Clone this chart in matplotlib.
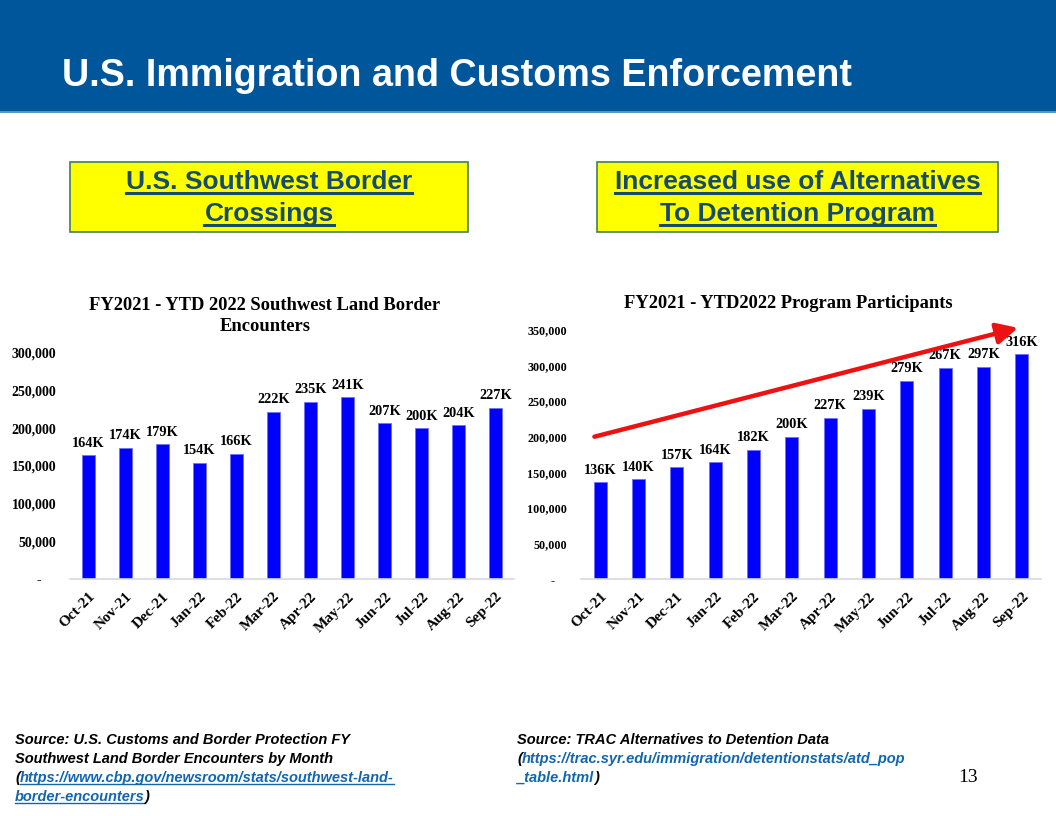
import matplotlib
matplotlib.use("Agg")
import matplotlib.pyplot as plt
from matplotlib.patches import Rectangle
from matplotlib.lines import Line2D
from matplotlib.ticker import FuncFormatter

months = ["Oct-21", "Nov-21", "Dec-21", "Jan-22", "Feb-22", "Mar-22",
          "Apr-22", "May-22", "Jun-22", "Jul-22", "Aug-22", "Sep-22"]

# southwest border encounters (thousands)
border = [164, 174, 179, 154, 166, 222, 235, 241, 207, 200, 204, 227]
border_labels = ["164K", "174K", "179K", "154K", "166K", "222K",
                 "235K", "241K", "207K", "200K", "204K", "227K"]

# ATD program participants (thousands) - labels copied as printed on the slide
atd = [136, 140, 157, 164, 182, 200, 227, 239, 279, 297, 298, 316]
atd_labels = ["136K", "140K", "157K", "164K", "182K", "200K",
              "227K", "239K", "279K", "267K", "297K", "316K"]

W, H = 1056, 816
fig = plt.figure(figsize=(W / 100, H / 100), dpi=100)
fig.patch.set_facecolor("white")

serif = "Liberation Serif"
sans = "Liberation Sans"

# header band
fig.add_artist(Rectangle((0, 1 - 111 / H), 1, 111 / H, transform=fig.transFigure,
                         facecolor="#00569b", edgecolor="none"))
fig.add_artist(Rectangle((0, 1 - 113 / H), 1, 2 / H, transform=fig.transFigure,
                         facecolor="#5b93c7", edgecolor="none"))
fig.text(62 / W, 1 - 76 / H, "U.S. Immigration and Customs Enforcement",
         color="white", fontsize=27.2, fontweight="bold", family=sans,
         va="center", ha="left")

renderer = fig.canvas.get_renderer()


def underline(t, color, lw=2.0, off=1.0):
    bb = t.get_window_extent(renderer)
    fig.add_artist(Line2D([bb.x0 / W, bb.x1 / W], [(bb.y0 + off) / H] * 2,
                          transform=fig.transFigure, color=color, lw=lw))


# yellow boxes
box_txt = "#174b6c"
for x0, x1, lines in [(70, 468, ["U.S. Southwest Border", "Crossings"]),
                      (597, 998, ["Increased use of Alternatives", "To Detention Program"])]:
    fig.add_artist(Rectangle((x0 / W, 1 - 232 / H), (x1 - x0) / W, 70 / H,
                             transform=fig.transFigure, facecolor="#ffff00",
                             edgecolor="#3f7f5f", lw=1.2))
    for i, s in enumerate(lines):
        t = fig.text((x0 + x1) / 2 / W, 1 - (182 + 32 * i) / H, s, color=box_txt,
                     fontsize=19, fontweight="bold", family=sans,
                     ha="center", va="center")
        underline(t, box_txt, lw=2.2, off=1.5)


def ytick_fmt(v, pos):
    if v == 0:
        return "-    "
    return "{:,.0f}".format(v)


def draw_bars(ax, vals, labels, ymax, tick_size):
    xs = range(len(months))
    ax.bar(xs, [v * 1000 for v in vals], width=0.34, color="#0000ff",
           edgecolor="#7070ff", linewidth=0.6, zorder=2)
    for x, v, lab in zip(xs, vals, labels):
        ax.annotate(lab, (x, v * 1000), xytext=(0, 4), textcoords="offset points",
                    ha="center", va="bottom", fontsize=10.3, fontweight="bold",
                    family=serif)
    ax.set_xlim(-0.5, len(months) - 0.5)
    ax.set_ylim(0, ymax)
    ax.set_yticks(range(0, ymax + 1, 50000))
    ax.yaxis.set_major_formatter(FuncFormatter(ytick_fmt))
    ax.set_xticks(list(xs))
    ax.set_xticklabels(months, rotation=45, ha="right", rotation_mode="anchor")
    for lab in ax.get_xticklabels():
        lab.set_fontsize(11)
        lab.set_fontweight("bold")
        lab.set_family(serif)
    for lab in ax.get_yticklabels():
        lab.set_fontsize(tick_size)
        lab.set_fontweight("bold")
        lab.set_family(serif)
    ax.tick_params(length=0)
    ax.tick_params(axis="y", pad=10)
    ax.tick_params(axis="x", pad=8)
    for s in ["top", "right", "left"]:
        ax.spines[s].set_visible(False)
    ax.spines["bottom"].set_color("#d9d9d9")
    ax.spines["bottom"].set_linewidth(1.2)
    ax.set_facecolor("none")


axL = fig.add_axes([70 / W, 1 - 579 / H, 444 / W, 226 / H])
draw_bars(axL, border, border_labels, 300000, 10)
fig.text(265 / W, 1 - 316 / H, "FY2021 - YTD 2022 Southwest Land Border\nEncounters",
         ha="center", va="center", fontsize=13.3, fontweight="bold", family=serif,
         linespacing=1.35)

axR = fig.add_axes([581 / W, 1 - 579 / H, 460 / W, 249 / H])
draw_bars(axR, atd, atd_labels, 350000, 8.7)
fig.text(788 / W, 1 - 303 / H, "FY2021 - YTD2022 Program Participants",
         ha="center", va="center", fontsize=13.3, fontweight="bold", family=serif)

# trend arrow
axR.annotate("", xy=(10.9, 353000), xytext=(-0.15, 200000),
             arrowprops=dict(arrowstyle="-|>,head_length=0.8,head_width=0.4",
                             color="#ee1111", lw=3.2, mutation_scale=16,
                             shrinkA=0, shrinkB=0),
             annotation_clip=False)

# sources
link = "#1266b0"


def seg_line(x, y, segs):
    for s, col, ul in segs:
        t = fig.text(x / W, 1 - y / H, s, color=col, fontsize=10.5, fontweight="bold",
                     style="italic", family=sans, ha="left", va="center")
        bb = t.get_window_extent(renderer)
        if ul:
            underline(t, col, lw=1.0, off=1.5)
        x += bb.width


seg_line(15, 740, [("Source: U.S. Customs and Border Protection FY", "black", False)])
seg_line(15, 759, [("Southwest Land Border Encounters by Month", "black", False)])
seg_line(15, 778, [("(", "black", False),
                   ("https://www.cbp.gov/newsroom/stats/southwest-land-", link, True)])
seg_line(15, 797, [("border-encounters", link, True), (")", "black", False)])

seg_line(517, 740, [("Source: TRAC Alternatives to Detention Data", "black", False)])
seg_line(517, 759, [("(", "black", False),
                    ("https://trac.syr.edu/immigration/detentionstats/atd_pop", link, False)])
seg_line(517, 778, [("_table.html", link, False), (")", "black", False)])

fig.text(968 / W, 1 - 778 / H, "13", fontsize=14, family=serif, ha="center", va="center")

fig.savefig("out.png", dpi=100)
